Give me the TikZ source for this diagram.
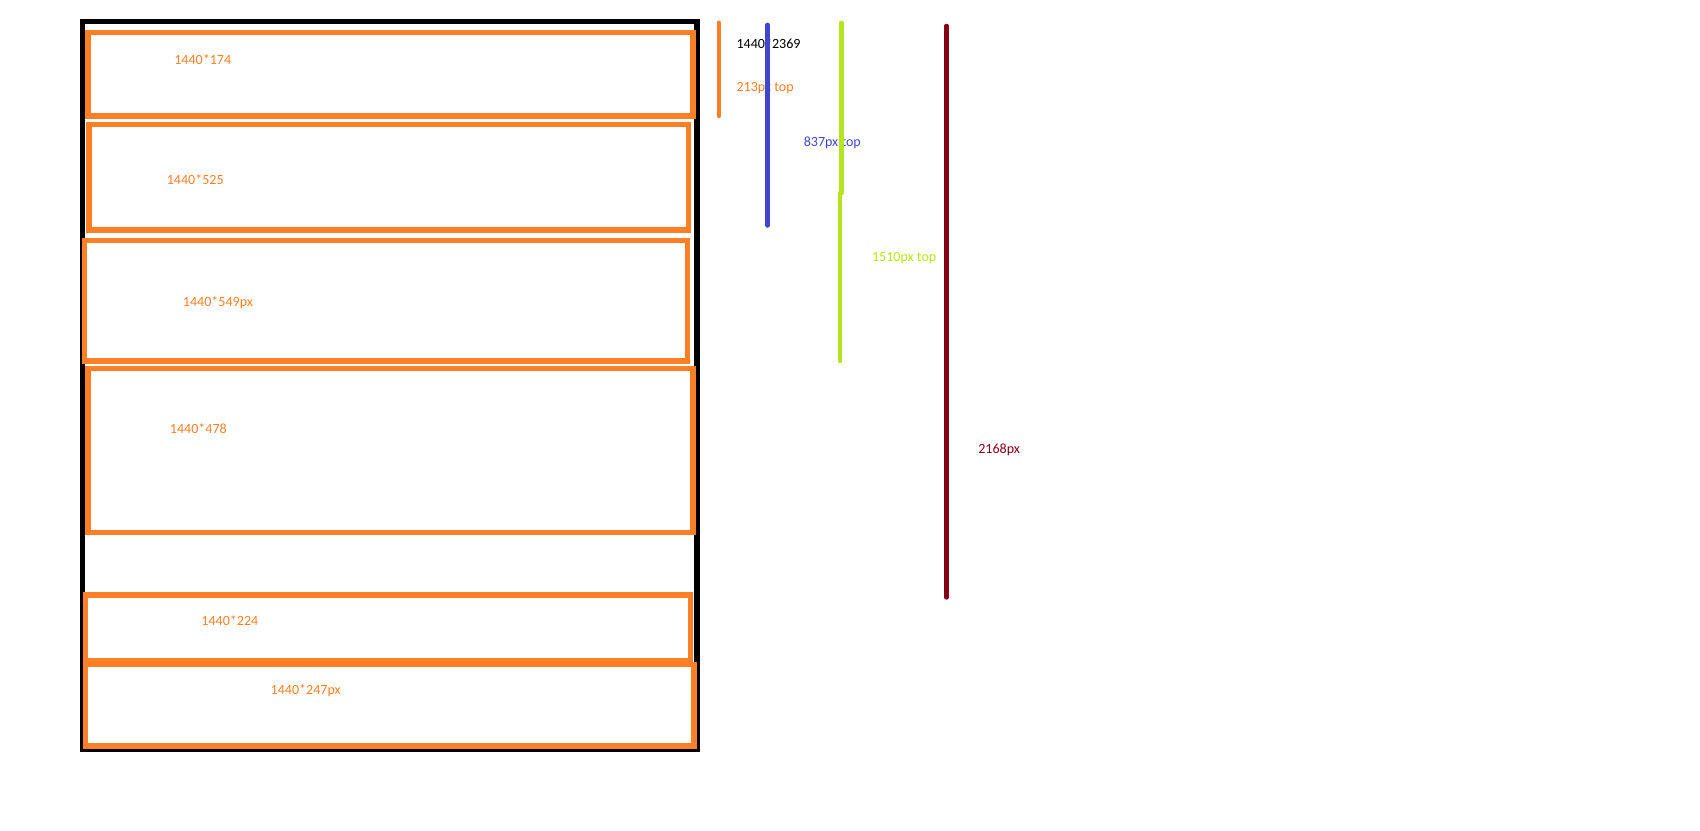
\documentclass[tikz,border=0pt]{standalone}
\usepackage{fontspec}
\setmainfont{Carlito}
\usetikzlibrary{positioning}
\definecolor{corange}{HTML}{FF7F27}
\definecolor{cblue}{HTML}{3F48CC}
\definecolor{cgreen}{HTML}{B5E61D}
\definecolor{cdark}{HTML}{880015}
\tikzset{
  every picture/.style={font=\fontsize{8}{9}\selectfont},
  page/.style={draw=black, line width=3pt},
  part/.style={draw=corange, line width=3.1pt},
  partlabel/.style={text=corange, inner sep=0pt},
  ruler/.style={draw=#1, line width=2.6pt, line cap=round},
  rulerlabel/.style={text=#1, anchor=west, inner sep=0pt},
}
\begin{document}
\begin{tikzpicture}[x=0.02cm, y=-0.02cm]
  \useasboundingbox (0,0) rectangle (1700,831);
  % the whole page
  \draw[page] (82.4,21.7) rectangle (697.1,749.2);
  % the sections of the page
  \foreach \xa/\ya/\xb/\yb/\lx/\ly/\txt [count=\i] in {
      87.8/32.5/692.8/116.0/202.7/59.6/1440*174,
      88.9/124.7/688.5/229.9/195.2/180.0/1440*525,
      84.6/240.7/687.4/361.0/217.9/302.5/1440*549px,
      87.8/368.6/692.8/532.3/198.4/428.3/1440*478,
      85.6/595.2/690.6/660.3/229.9/620.2/1440*224,
      85.6/664.6/693.9/745.9/305.7/690.6/1440*247px} {
    \draw[part] (\xa,\ya) rectangle (\xb,\yb);
    \node[partlabel] (sec\i) at (\lx,\ly) {\txt};
  }
  % offsets from the top
  \draw[ruler=corange] (718.8,22.8) -- (718.8,116.0);
  \node[rulerlabel=black] (size) at (736.2,43.4) {1440*2369};
  \node[rulerlabel=corange] (top1) at (736.2,87.8) {213px top};
  \draw[ruler=cblue] (767.6,24.9) -- (767.6,225.5);
  \node[rulerlabel=cblue] (top2) at (803.4,143.1) {837px top};
  \draw[ruler=cgreen] (841.3,22.8) -- (841.3,193.0);
  \draw[ruler=cgreen] (840.2,193.0) -- (840.2,361.0);
  \node[rulerlabel=cgreen] (top3) at (871.7,258.0) {1510px top};
  \draw[ruler=cdark] (946.5,26.0) -- (946.5,597.4);
  \node[rulerlabel=cdark] (total) at (978.0,449.9) {2168px};
\end{tikzpicture}
\end{document}
